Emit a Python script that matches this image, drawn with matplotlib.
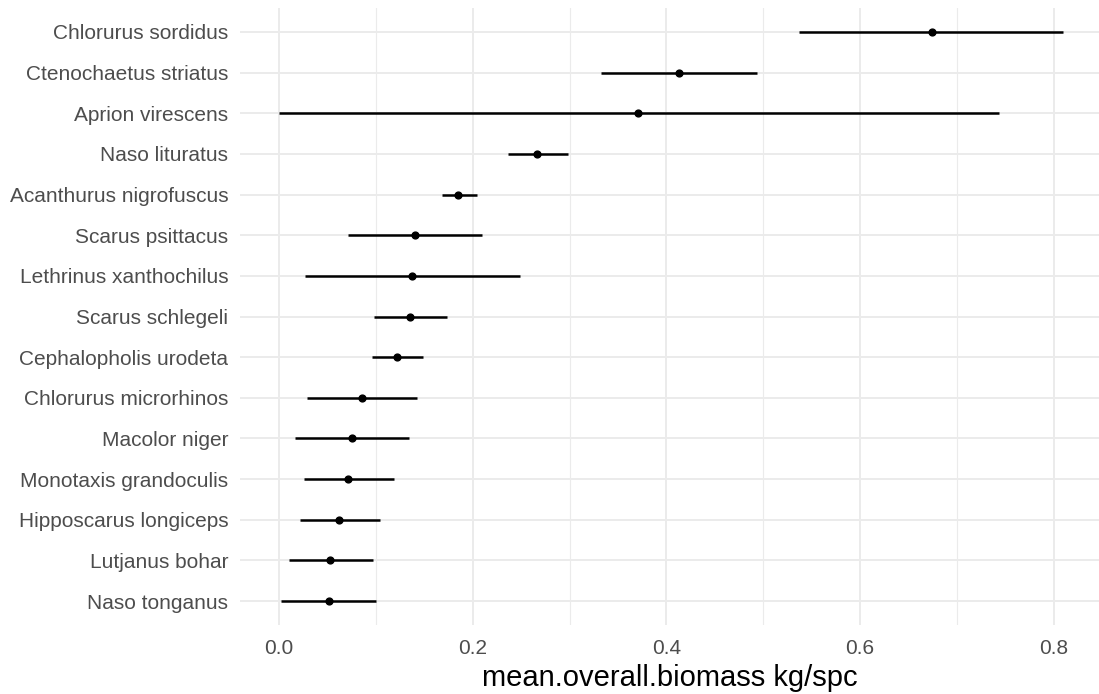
import matplotlib.pyplot as plt
import numpy as np

plt.rcParams["font.family"] = ["Liberation Sans", "DejaVu Sans"]

# species, top to bottom
species = [
    "Chlorurus sordidus",
    "Ctenochaetus striatus",
    "Aprion virescens",
    "Naso lituratus",
    "Acanthurus nigrofuscus",
    "Scarus psittacus",
    "Lethrinus xanthochilus",
    "Scarus schlegeli",
    "Cephalopholis urodeta",
    "Chlorurus microrhinos",
    "Macolor niger",
    "Monotaxis grandoculis",
    "Hipposcarus longiceps",
    "Lutjanus bohar",
    "Naso tonganus",
]
mean_biomass = [0.674, 0.413, 0.371, 0.266, 0.185, 0.140, 0.137, 0.135,
                0.122, 0.086, 0.075, 0.071, 0.062, 0.053, 0.051]
lower = [0.537, 0.332, 0.000, 0.236, 0.168, 0.071, 0.027, 0.098,
         0.096, 0.029, 0.016, 0.026, 0.022, 0.010, 0.002]
upper = [0.810, 0.494, 0.744, 0.298, 0.204, 0.210, 0.249, 0.173,
         0.149, 0.142, 0.134, 0.119, 0.104, 0.097, 0.100]

n = len(species)
y = np.arange(n)[::-1] + 1  # first species at the top

fig = plt.figure(figsize=(10.99, 6.94), dpi=100)
ax = fig.add_axes([240 / 1099, 1 - 625.4 / 694, (1099 - 240) / 1099, (625.4 - 7.6) / 694])

ax.hlines(y, lower, upper, color="black", linewidth=1.8, zorder=3)
ax.scatter(mean_biomass, y, color="black", s=24, zorder=4)

ax.set_xlim(-0.0405, 0.847)
ax.set_ylim(0.4, n + 0.6)
ax.set_xticks([0.0, 0.2, 0.4, 0.6, 0.8])
ax.set_xticklabels(["0.0", "0.2", "0.4", "0.6", "0.8"])
ax.set_xticks([0.1, 0.3, 0.5, 0.7], minor=True)
ax.set_yticks(y)
ax.set_yticklabels(species)

ax.grid(True, which="major", color="#EBEBEB", linewidth=1.4, zorder=0)
ax.grid(True, which="minor", axis="x", color="#EBEBEB", linewidth=0.8, zorder=0)
ax.set_axisbelow(True)
for s in ax.spines.values():
    s.set_visible(False)
ax.tick_params(which="both", length=0, labelsize=15, colors="#4D4D4D")
ax.tick_params(axis="y", pad=8.5)
ax.tick_params(axis="x", pad=10)
ax.set_xlabel("mean.overall.biomass kg/spc", fontsize=21, color="black", labelpad=4)

plt.savefig("out.png", dpi=100)
